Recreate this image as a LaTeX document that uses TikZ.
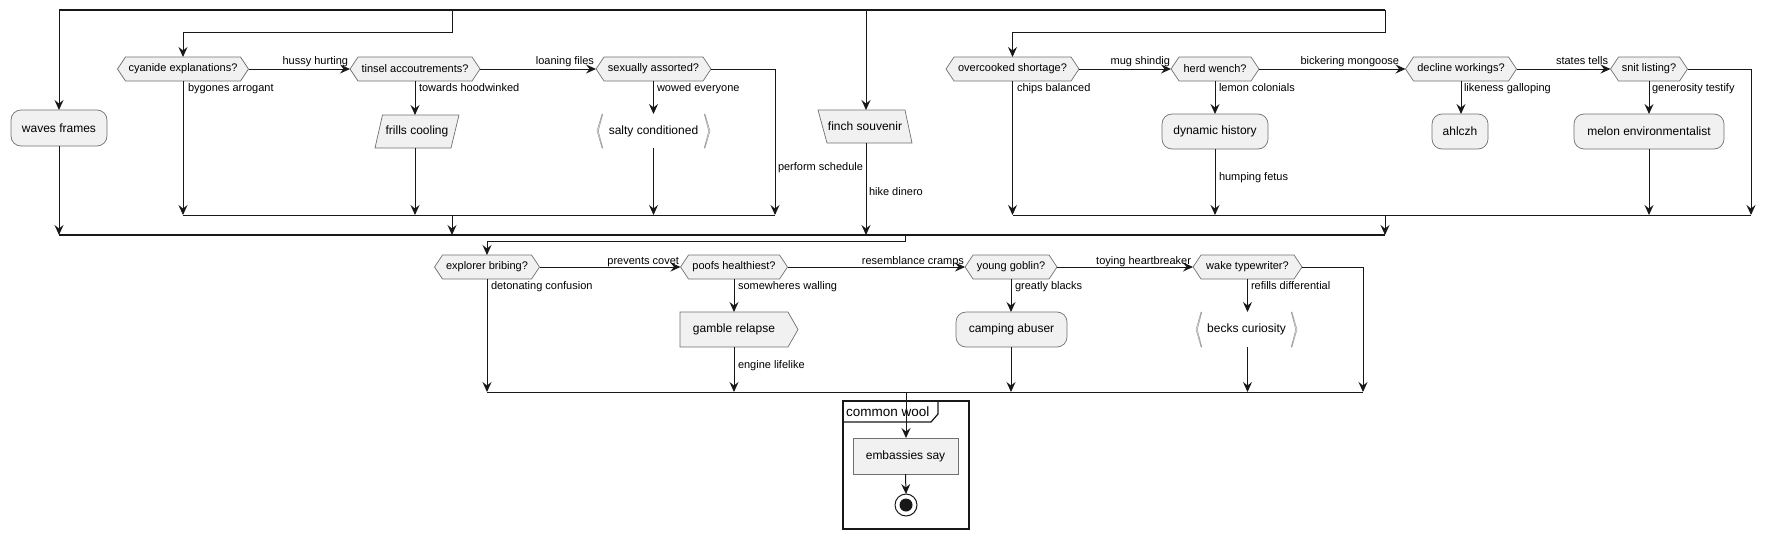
\documentclass[tikz,border=0pt]{standalone}
\usepackage{fontspec}
\setmainfont{Liberation Sans}
\usetikzlibrary{arrows.meta,backgrounds}
\definecolor{shapefill}{HTML}{F1F1F1}
\definecolor{lineC}{HTML}{181818}
\definecolor{shapeline}{HTML}{707070}
\tikzset{
  base/.style={inner sep=0pt, outer sep=0pt, text=black},
  act/.style={base, rectangle, rounded corners=10pt, draw=shapeline, fill=shapefill, line width=0.7pt, font=\fontsize{12}{14}\selectfont},
  plainbox/.style={base, rectangle, draw=shapeline, fill=shapefill, line width=0.7pt, font=\fontsize{12}{14}\selectfont},
  dec/.style={base, rectangle, minimum height=24pt, font=\fontsize{11}{13}\selectfont},
  io/.style={base, rectangle, font=\fontsize{12}{14}\selectfont},
  shp/.style={draw=shapeline, fill=shapefill, line width=0.7pt},
  brk/.style={draw=shapeline!70, fill=shapefill, line width=0.5pt},
  lbl/.style={base, font=\fontsize{11}{13}\selectfont, text height=8pt, text depth=2.5pt},
  ln/.style={draw=lineC, line width=1pt},
  flow/.style={ln, -{Stealth[length=10pt,width=9pt,inset=3.5pt]}},
  bar/.style={draw=lineC, line width=1.8pt},
}
\begin{document}
\begin{tikzpicture}[x=1pt,y=-1pt]
\useasboundingbox (0,0) rectangle (1775,538);

% ---------- nodes: upper split ----------
\node[act, minimum width=96pt, minimum height=36pt] (waves) at (59,128) {waves frames};

\node[dec, minimum width=131pt] (cyan) at (183,69) {cyanide explanations?};
\node[dec, minimum width=130pt] (tinsel) at (415,69) {tinsel accoutrements?};
\node[dec, minimum width=115pt] (sex) at (653.5,69) {sexually assorted?};
\node[io, minimum width=84pt, minimum height=33pt] (frills) at (417,131.5) {frills cooling};
\node[io, minimum width=113pt, minimum height=34pt] (salty) at (653.5,131) {salty conditioned};

\node[io, minimum width=94pt, minimum height=33pt] (finch) at (865,126.5) {finch souvenir};

\node[dec, minimum width=133pt] (over) at (1012.5,69) {overcooked shortage?};
\node[dec, minimum width=88pt] (herd) at (1215,69) {herd wench?};
\node[dec, minimum width=111pt] (decl) at (1461,69) {decline workings?};
\node[dec, minimum width=77pt] (snit) at (1649,69) {snit listing?};
\node[act, minimum width=106pt, minimum height=35pt] (dyn) at (1215,131.5) {dynamic history};
\node[act, minimum width=56pt, minimum height=35pt] (ahl) at (1460,131.5) {ahlczh};
\node[act, minimum width=150pt, minimum height=35pt] (melon) at (1649,131.5) {melon environmentalist};

% ---------- nodes: lower part ----------
\node[dec, minimum width=105pt] (expl) at (487,267) {explorer bribing?};
\node[dec, minimum width=107pt] (poofs) at (734,267) {poofs healthiest?};
\node[dec, minimum width=92pt] (young) at (1011,267) {young goblin?};
\node[dec, minimum width=109pt] (wake) at (1247.5,267) {wake typewriter?};
\node[io, minimum width=108pt, minimum height=35pt] (gamble) at (734,329.5) {gamble relapse};
\node[act, minimum width=111pt, minimum height=35pt] (camp) at (1011.5,329.5) {camping abuser};
\node[io, minimum width=101pt, minimum height=35pt] (becks) at (1246.5,329.5) {becks curiosity};

\node[base, draw=lineC, line width=1.5pt, minimum width=126pt, minimum height=128pt] (frame) at (906,465) {};
\draw[lineC, line width=1.2pt] (frame.north west) ++(0,21) -- ++(88,0) -- ++(7,-8) -- ++(0,-13);
\node[base, anchor=west, font=\fontsize{13.5}{15}\selectfont] (fttl) at (846,412) {common wool};
\node[plainbox, minimum width=105pt, minimum height=36pt] (emb) at (905.5,456) {embassies say};
\node[base, circle, draw=lineC, line width=1pt, fill=white, minimum size=22pt] (stop) at (906,505) {};
\node[base, circle, fill=lineC, minimum size=13pt] (stopin) at (906,505) {};

% ---------- coordinates ----------
\coordinate (tbL) at (59,10);  \coordinate (tbR) at (1385,10);
\coordinate (g1s) at (452,10); \coordinate (fs) at (866,10); \coordinate (g2s) at (1385,10);
\coordinate (bbL) at (59,235); \coordinate (bbR) at (1385,235);
\coordinate (m1L) at (183,215); \coordinate (m1R) at (775,215); \coordinate (m1o) at (452,215);
\coordinate (m2L) at (1013,215); \coordinate (m2R) at (1751,215); \coordinate (m2o) at (1385,215);
\coordinate (bbo) at (905,235);
\coordinate (m3L) at (487,392); \coordinate (m3R) at (1363,392); \coordinate (m3o) at (906,392);

% ---------- bars ----------
\draw[bar] (tbL) -- (tbR);
\draw[bar] (bbL) -- (bbR);
\draw[ln] (m1L) -- (m1R);
\draw[ln] (m2L) -- (m2R);
\draw[ln] (m3L) -- (m3R);

% ---------- upper connectors ----------
\draw[flow] (tbL) -- (waves.north);
\draw[flow] (waves.south) -- (bbL);
\draw[flow] (g1s) -- ++(0,22) -| (cyan.north);
\draw[flow] (fs) -- (fs |- finch.north);
\draw[flow] (fs |- finch.south) -- (fs |- bbL);
\node[lbl, anchor=west] at (869,193) {hike dinero};
\draw[flow] (g2s) -- ++(0,22) -| (over.north);

\draw[flow] (cyan.east) -- (tinsel.west);
\node[lbl, anchor=east] at (348,62) {hussy hurting};
\draw[flow] (tinsel.east) -- (sex.west);
\node[lbl, anchor=east] at (594,62) {loaning files};
\draw[flow] (cyan.south) -- (cyan.south |- m1L);
\node[lbl, anchor=west] at (188,89) {bygones arrogant};
\draw[flow] (tinsel.south) -- (tinsel.south |- frills.north);
\node[lbl, anchor=west] at (419,89) {towards hoodwinked};
\draw[flow] (tinsel.south |- frills.south) -- (tinsel.south |- m1L);
\draw[flow] (sex.south) -- (sex.south |- salty.north);
\node[lbl, anchor=west] at (657,89) {wowed everyone};
\draw[flow] (salty.south) -- (salty.south |- m1L);
\draw[flow] (sex.east) -| (m1R);
\node[lbl, anchor=west] at (778,168) {perform schedule};
\draw[flow] (m1o) -- (m1o |- bbL);

\draw[flow] (over.east) -- (herd.west);
\node[lbl, anchor=east] at (1170,62) {mug shindig};
\draw[flow] (herd.east) -- (decl.west);
\node[lbl, anchor=east] at (1399,62) {bickering mongoose};
\draw[flow] (decl.east) -- (snit.west);
\node[lbl, anchor=east] at (1608,62) {states tells};
\draw[flow] (over.south) -- (over.south |- m2L);
\node[lbl, anchor=west] at (1017,89) {chips balanced};
\draw[flow] (herd.south) -- (dyn.north);
\node[lbl, anchor=west] at (1219,89) {lemon colonials};
\draw[flow] (dyn.south) -- (dyn.south |- m2L);
\node[lbl, anchor=west] at (1219,178) {humping fetus};
\draw[flow] (decl.south) -- (decl.south |- ahl.north);
\node[lbl, anchor=west] at (1464,89) {likeness galloping};
\draw[flow] (snit.south) -- (snit.south |- melon.north);
\node[lbl, anchor=west] at (1652,89) {generosity testify};
\draw[flow] (melon.south) -- (melon.south |- m2L);
\draw[flow] (snit.east) -| (m2R);
\draw[flow] (m2o) -- (bbR);

% ---------- lower connectors ----------
\draw[flow] (bbo) -- ++(0,6) -| (expl.north);
\draw[flow] (expl.east) -- (poofs.west);
\node[lbl, anchor=east] at (679,262) {prevents covet};
\draw[flow] (poofs.east) -- (young.west);
\node[lbl, anchor=east] at (964,262) {resemblance cramps};
\draw[flow] (young.east) -- (wake.west);
\node[lbl, anchor=east] at (1191,262) {toying heartbreaker};
\draw[flow] (expl.south) -- (expl.south |- m3L);
\node[lbl, anchor=west] at (491,287) {detonating confusion};
\draw[flow] (poofs.south) -- (gamble.north);
\node[lbl, anchor=west] at (738,287) {somewheres walling};
\draw[flow] (gamble.south) -- (gamble.south |- m3L);
\node[lbl, anchor=west] at (738,366) {engine lifelike};
\draw[flow] (young.south) -- (young.south |- camp.north);
\node[lbl, anchor=west] at (1015,287) {greatly blacks};
\draw[flow] (young.south |- camp.south) -- (young.south |- m3L);
\draw[flow] (wake.south) -- (wake.south |- becks.north);
\node[lbl, anchor=west] at (1251,287) {refills differential};
\draw[flow] (wake.south |- becks.south) -- (wake.south |- m3L);
\draw[flow] (wake.east) -| (m3R);
\draw[flow] (m3o) -- (m3o |- emb.north);
\draw[flow] (emb.south) -- (stop.north);

% ---------- shape outlines on background ----------
\begin{scope}[on background layer]
\foreach \n in {cyan,tinsel,sex,over,herd,decl,snit,expl,poofs,young,wake}{
  \path[shp] (\n.west) -- ([xshift=8pt]\n.north west) -- ([xshift=-8pt]\n.north east)
    -- (\n.east) -- ([xshift=-8pt]\n.south east) -- ([xshift=8pt]\n.south west) -- cycle;
}
\path[shp] (frills.south west) -- ([xshift=-8pt]frills.south east) -- (frills.north east)
  -- ([xshift=7.5pt]frills.north west) -- cycle;
\path[shp] (finch.north west) -- ([xshift=-7pt]finch.north east) -- (finch.south east)
  -- ([xshift=9pt]finch.south west) -- cycle;
\path[shp] (gamble.north west) -- (gamble.north east) -- ([xshift=10pt]gamble.east)
  -- (gamble.south east) -- (gamble.south west) -- cycle;
\foreach \n in {salty,becks}{
  \path[brk] ([xshift=5pt]\n.north west) -- (\n.west) -- ([xshift=5pt]\n.south west)
    -- ([xshift=5.8pt]\n.south west) -- ([xshift=1.3pt]\n.west) -- ([xshift=5.8pt]\n.north west) -- cycle;
  \path[brk] ([xshift=-5pt]\n.north east) -- (\n.east) -- ([xshift=-5pt]\n.south east)
    -- ([xshift=-5.8pt]\n.south east) -- ([xshift=-1.3pt]\n.east) -- ([xshift=-5.8pt]\n.north east) -- cycle;
}
\end{scope}
\end{tikzpicture}
\end{document}
